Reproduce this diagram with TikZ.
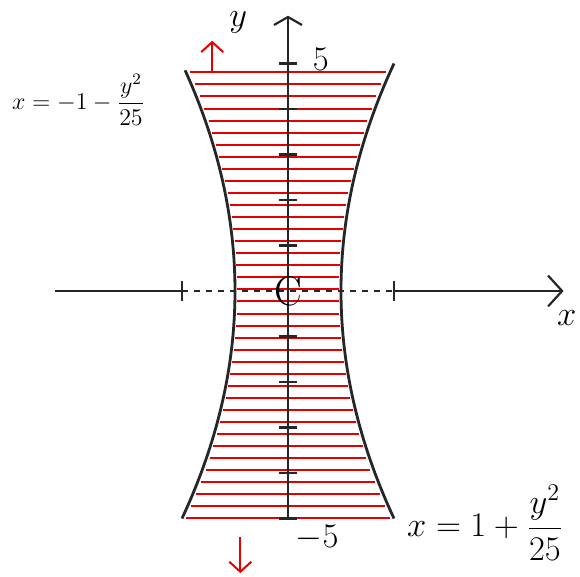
\documentclass[tikz,border=0pt]{standalone}
\usepackage{amsmath}
\usetikzlibrary{arrows.meta}
\begin{document}
\begin{tikzpicture}[
    x=26.5pt, y=22.75pt,
    axis/.style={line width=1.1pt, black!85},
    curve/.style={line width=1.4pt, black!85, smooth},
    hatch/.style={line width=1pt, red!90!black},
    tick/.style={line width=1.1pt, black!85},
    barb/.style={-{Straight Barb[length=#1, width=2.2*#1]}},
    lbl/.style={font=\LARGE}
]
\useasboundingbox (-144pt,-143pt) rectangle (146pt,145.5pt);

% Shaded region (horizontal hatching)
\foreach \k in {0,...,37}{
    \pgfmathsetmacro{\yy}{-5+\k*0.265}
    \pgfmathsetmacro{\xx}{0.96*(1+\yy*\yy/25)}
    \draw[hatch] (-\xx,\yy) -- (\xx,\yy);
}

% Boundary curves
\draw[curve] plot[domain=-5:4.85, samples=30, variable=\t] ({-1-\t*\t/25},\t);
\draw[curve] plot[domain=-5:5, samples=30, variable=\t] ({1+\t*\t/25},\t);

% Axes
\coordinate (xl) at (-4.4,0);
\coordinate (xm) at (-2,0);
\coordinate (xp) at (2,0);
\coordinate (xr) at (5.2,0);
\coordinate (yb) at (0,-5.03);
\coordinate (yt) at (0,6.05);
\draw[axis] (xl) -- (xm);
\draw[axis, line width=0.8pt, dash pattern=on 3pt off 3pt] (xm) -- (xp);
\draw[axis, barb=7pt] (xp) -- (xr);
\draw[axis, -{Straight Barb[length=4pt, width=14pt]}] (yb) -- (yt);

% Ticks
\foreach \k in {-5,...,-1,1,2,...,5}
    \draw[tick] (-0.17,\k) -- (0.17,\k);
\foreach \k in {-2,2}
    \draw[tick] (\k,-0.22) -- (\k,0.22);

% Labels
\node[lbl] (xlab) at (5.26,-0.6) {$x$};
\node[lbl] (ylab) at (-0.94,5.9) {$y$};
\node[lbl] (top) at (0.62,5.08) {$5$};
\node[lbl] (bot) at (0.55,-5.43) {$-5$};
\node[font=\huge] (orig) at (0,0) {C};
\node[font=\large, inner sep=1pt] (eqleft) at (-3.95,4.2) {$x=-1-\dfrac{y^2}{25}$};
\node[font=\LARGE, inner sep=1pt] (eqright) at (3.72,-5.1) {$x=1+\dfrac{y^2}{25}$};

% Direction arrows
\coordinate (ua) at (-1.43,4.8);
\coordinate (ub) at (-1.43,5.5);
\coordinate (da) at (-0.9,-5.4);
\coordinate (db) at (-0.9,-6.2);
\draw[hatch, barb=5pt] (ua) -- (ub);
\draw[hatch, barb=5pt] (da) -- (db);

\end{tikzpicture}
\end{document}
